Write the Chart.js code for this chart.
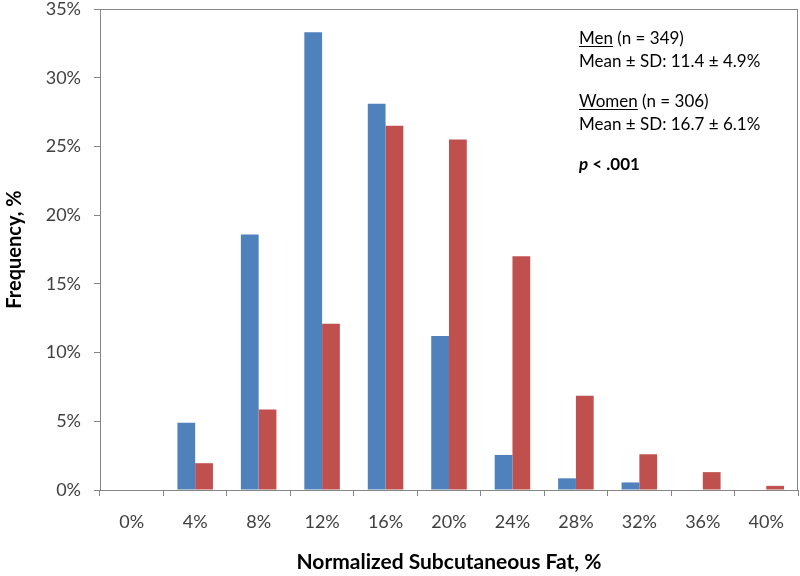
<!DOCTYPE html>
<html>
<head>
<meta charset="utf-8">
<script src="https://cdn.jsdelivr.net/npm/chart.js@4"></script>
<style>
  body { margin: 0; background: #fff; }
  #wrap { position: relative; width: 800px; height: 576px; }
  #note {
    position: absolute; left: 579px; top: 26px;
    font-family: Lato, "Open Sans", sans-serif; font-size: 17px;
    color: #000; line-height: 23px;
  }
  #note u { text-decoration-thickness: 1px; text-underline-offset: 2px; }
  #note .gap { height: 17px; }
</style>
</head>
<body>
<div id="wrap">
  <canvas id="fatChart"></canvas>
  <div id="note">
    <div><u>Men</u> (n = 349)</div>
    <div>Mean ± SD: 11.4 ± 4.9%</div>
    <div class="gap"></div>
    <div><u>Women</u> (n = 306)</div>
    <div>Mean ± SD: 16.7 ± 6.1%</div>
    <div class="gap"></div>
    <div><b><i>p</i> &lt; .001</b></div>
  </div>
</div>
<script>
const categories = ["0%", "4%", "8%", "12%", "16%", "20%", "24%", "28%", "32%", "36%", "40%"];
const menValues = [0, 4.9, 18.6, 33.3, 28.1, 11.2, 2.55, 0.85, 0.55, 0, 0];
const womenValues = [0, 1.95, 5.85, 12.1, 26.5, 25.5, 17.0, 6.85, 2.6, 1.3, 0.3];
const yTicks = [0, 5, 10, 15, 20, 25, 30, 35];

const axisGray = "#868686";
const tickFont = { family: "Lato, 'Open Sans', sans-serif", size: 18 };
const titleFont = { family: "Lato, 'Open Sans', sans-serif", size: 21, weight: "bold" };

// box round the plot area (top and right sides)
const frame = {
    id: "frame",
    afterDraw(chart) {
        const a = chart.chartArea;
        const ctx = chart.ctx;
        ctx.save();
        ctx.strokeStyle = axisGray;
        ctx.lineWidth = 1;
        ctx.strokeRect(a.left + 0.5, a.top + 0.5, a.right - a.left - 1, a.bottom - a.top);
        ctx.restore();
    }
};

new Chart(document.getElementById("fatChart"), {
    type: "bar",
    data: {
        labels: categories,
        datasets: [
            { label: "Men", data: menValues, backgroundColor: "#4F81BD", borderWidth: 0 },
            { label: "Women", data: womenValues, backgroundColor: "#C0504D", borderWidth: 0 }
        ]
    },
    options: {
        responsive: true,
        maintainAspectRatio: false,
        animation: false,
        layout: { padding: { top: 9, right: 2, left: 0, bottom: 0 } },
        datasets: { bar: { categoryPercentage: 0.56, barPercentage: 1.0 } },
        plugins: { legend: { display: false }, tooltip: { enabled: false } },
        scales: {
            x: {
                grid: { offset: true, drawOnChartArea: false, drawTicks: true, tickLength: 6, color: axisGray },
                border: { color: axisGray },
                ticks: { color: "#404040", font: tickFont, padding: 15, maxRotation: 0 },
                title: { display: true, text: "Normalized Subcutaneous Fat, %", color: "#000", font: titleFont, padding: { top: 0, bottom: 1 } },
                afterFit(scale) { scale.height = 86; scale.paddingLeft = 0; scale.paddingRight = 0; }
            },
            y: {
                min: 0,
                max: 35,
                afterBuildTicks(scale) { scale.ticks = yTicks.map(v => ({ value: v })); },
                grid: { drawOnChartArea: false, drawTicks: true, tickLength: 6, color: axisGray },
                border: { color: axisGray },
                ticks: { color: "#404040", font: tickFont, padding: 13, callback: v => v + "%" },
                title: { display: true, text: "Frequency, %", color: "#000", font: { ...titleFont, size: 20 }, padding: { top: 3, bottom: 0 } },
                afterFit(scale) { scale.width = 100; scale.paddingTop = 0; scale.paddingBottom = 0; }
            }
        }
    },
    plugins: [frame]
});
</script>
</body>
</html>
